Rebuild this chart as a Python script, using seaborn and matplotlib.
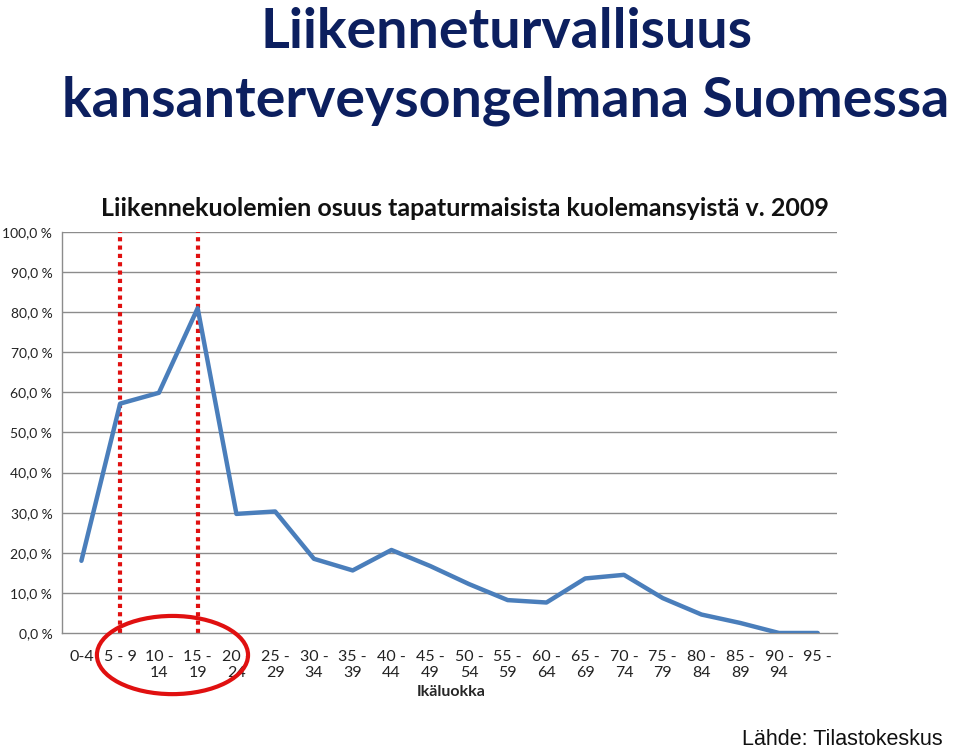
import numpy as np
import pandas as pd
import matplotlib
matplotlib.use("Agg")
import matplotlib.pyplot as plt
from matplotlib.patches import Ellipse
import seaborn as sns

# ---- data ----
age_groups = ["0-4", "5 - 9", "10 -\n14", "15 -\n19", "20 -\n24", "25 -\n29", "30 -\n34",
              "35 -\n39", "40 -\n44", "45 -\n49", "50 -\n54", "55 -\n59", "60 -\n64",
              "65 -\n69", "70 -\n74", "75 -\n79", "80 -\n84", "85 -\n89", "90 -\n94", "95 -"]
share_pct = [18.0, 57.2, 59.9, 81.0, 29.7, 30.3, 18.5, 15.6, 20.7, 16.7,
             12.2, 8.2, 7.6, 13.6, 14.5, 8.7, 4.6, 2.5, 0.0, 0.0]
y_ticks = [0, 10, 20, 30, 40, 50, 60, 70, 80, 90, 100]
y_tick_labels = ["0,0 %", "10,0 %", "20,0 %", "30,0 %", "40,0 %", "50,0 %",
                 "60,0 %", "70,0 %", "80,0 %", "90,0 %", "100,0 %"]
highlight_groups = [1, 3]  # 5-9 and 15-19

df = pd.DataFrame({"pos": np.arange(len(age_groups)), "share": share_pct})

sns.set_theme(style="white")
plt.rcParams["font.family"] = ["Lato", "DejaVu Sans"]

fig = plt.figure(figsize=(9.6, 7.54), dpi=100)
ax = fig.add_axes([0.0646, 0.1605, 0.8074, 0.5318])

grid_c = "#8c8c8c"
for yv in y_ticks[1:]:
    ax.axhline(yv, color=grid_c, lw=1.0, zorder=0)

for g in highlight_groups:
    ax.axvline(g, color="#e01010", lw=3, linestyle=(0, (1, 1)), zorder=1)

sns.lineplot(data=df, x="pos", y="share", color="#4a7ebb", lw=3.2, ax=ax,
             sort=False, zorder=3)

ax.set_xlim(-0.5, len(age_groups) - 0.5)
ax.set_ylim(0, 100)
ax.set_yticks(y_ticks)
ax.set_yticklabels(y_tick_labels, fontsize=10, color="#222222")
ax.set_xticks(np.arange(len(age_groups)))
ax.set_xticklabels(age_groups, fontsize=11.5, color="#222222", linespacing=1.25,
                   va="top")
ax.set_xticks(np.arange(-0.5, len(age_groups)), minor=True)
ax.tick_params(axis="x", which="major", length=0, pad=12)
ax.tick_params(axis="x", which="minor", length=5, color=grid_c, width=1, direction="out")
ax.tick_params(axis="y", which="major", length=5, color=grid_c, width=1, direction="out", pad=2)
ax.set_xlabel("Ikäluokka", fontsize=11.5, fontweight="bold")
ax.xaxis.set_label_coords(0.502, -0.13)
ax.set_ylabel("")
for s in ["top", "right"]:
    ax.spines[s].set_visible(False)
for s in ["left", "bottom"]:
    ax.spines[s].set_color(grid_c)
    ax.spines[s].set_linewidth(1.0)

ell = Ellipse((2.35, -5.5), width=3.9, height=19.5, fill=False, edgecolor="#e01010",
              lw=3, clip_on=False, zorder=5)
ax.add_patch(ell)

fig.text(0.528, 0.958, "Liikenneturvallisuus", ha="center", va="center",
         fontsize=40, fontweight="bold", color="#0c1f5f")
fig.text(0.527, 0.867, "kansanterveysongelmana Suomessa", ha="center", va="center",
         fontsize=40, fontweight="bold", color="#0c1f5f")
fig.text(0.484, 0.724, "Liikennekuolemien osuus tapaturmaisista kuolemansyistä v. 2009",
         ha="center", va="center", fontsize=18, fontweight="bold", color="#111111")
fig.text(0.982, 0.005, "Lähde: Tilastokeskus", ha="right", va="bottom",
         fontsize=15.5, family=["Liberation Sans", "DejaVu Sans"], color="#111111")

fig.savefig("out.png", dpi=100)
